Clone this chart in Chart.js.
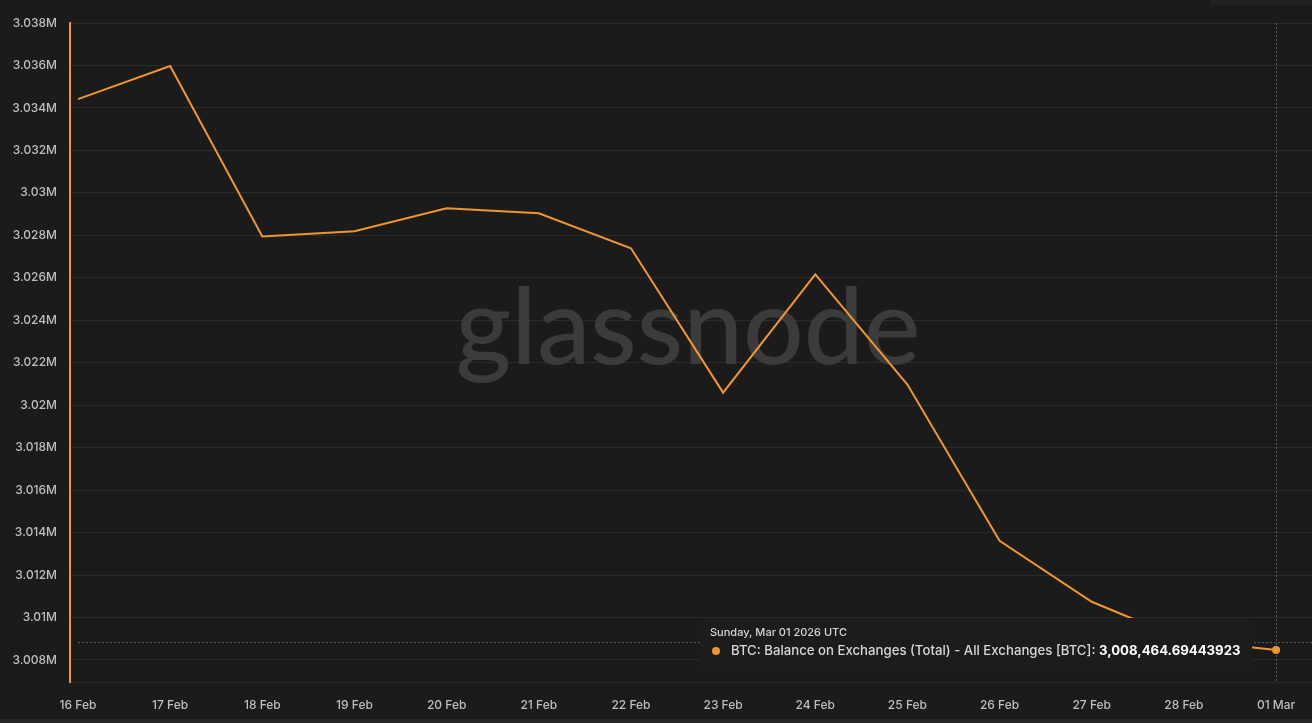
<!DOCTYPE html>
<html>
<head>
<meta charset="utf-8">
<script src="https://cdn.jsdelivr.net/npm/chart.js@4.4.1/dist/chart.umd.min.js"></script>
<style>
  html, body { margin: 0; padding: 0; background: #1b1b1b; }
  #wrap { width: 1312px; height: 723px; position: relative; }
</style>
</head>
<body>
<div id="wrap"><canvas id="c" width="1312" height="723"></canvas></div>
<script>
// ---- data ----
const dates = ['16 Feb','17 Feb','18 Feb','19 Feb','20 Feb','21 Feb','22 Feb','23 Feb','24 Feb','25 Feb','26 Feb','27 Feb','28 Feb','01 Mar'];
const balanceBTC = [3034415, 3035972, 3027950, 3028190, 3029270, 3029040, 3027390, 3020590, 3026160, 3020970, 3013610, 3010740, 3008940, 3008464.69443923];
const yTickValues = [3008000, 3010000, 3012000, 3014000, 3016000, 3018000, 3020000, 3022000, 3024000, 3026000, 3028000, 3030000, 3032000, 3034000, 3036000, 3038000];
const seriesName = 'BTC: Balance on Exchanges (Total) - All Exchanges [BTC]';
const tooltipTitle = 'Sunday, Mar 01 2026 UTC';
const watermark = 'glassnode';

const ORANGE = '#f0962e';
const BG = '#1b1b1b';
const GRID = '#2b2b2b';
const TEXT = '#bfbfbf';

function fmtM(v) {
  return (v / 1e6).toFixed(3).replace(/0+$/, '').replace(/\.$/, '') + 'M';
}
function fmtFull(v) {
  const parts = v.toFixed(8).split('.');
  return parts[0].replace(/\B(?=(\d{3})+(?!\d))/g, ',') + '.' + parts[1];
}

const points = balanceBTC.map((v, i) => ({ x: i, y: v }));
const lastIdx = points.length - 1;

const bgPlugin = {
  id: 'bg',
  beforeDraw(chart) {
    const { ctx, width, height } = chart;
    ctx.save();
    ctx.fillStyle = BG;
    ctx.fillRect(0, 0, width, height);
    ctx.fillStyle = '#262626';
    ctx.fillRect(0, height - 4, width, 4);
    ctx.fillStyle = '#222222';
    ctx.fillRect(1210, 0, width - 1210, 5);
    ctx.restore();
  },
  beforeDatasetsDraw(chart) {
    const { ctx } = chart;
    ctx.save();
    let size = 96;
    ctx.font = `500 ${size}px Lato, "Open Sans", sans-serif`;
    const w = ctx.measureText(watermark).width;
    size = size * 465 / w;
    ctx.font = `500 ${size}px Lato, "Open Sans", sans-serif`;
    ctx.fillStyle = '#3b3b3b';
    ctx.textAlign = 'center';
    ctx.textBaseline = 'alphabetic';
    ctx.fillText(watermark, 688, 364);
    ctx.restore();
  },
  afterDatasetsDraw(chart) {
    const { ctx, chartArea, scales } = chart;
    const px = scales.x.getPixelForValue(points[lastIdx].x);
    const py = scales.y.getPixelForValue(points[lastIdx].y);
    ctx.save();
    // crosshair
    ctx.strokeStyle = '#5a6068';
    ctx.lineWidth = 1;
    ctx.setLineDash([2, 2]);
    ctx.beginPath();
    ctx.moveTo(px + 0.5, chartArea.top);
    ctx.lineTo(px + 0.5, chartArea.bottom);
    ctx.moveTo(chartArea.left + 8, py - 7.5);
    ctx.lineTo(chartArea.right, py - 7.5);
    ctx.stroke();
    ctx.setLineDash([]);
    // tooltip box
    ctx.fillStyle = '#1c1c1c';
    ctx.fillRect(700, 618, 552, 50);
    ctx.textBaseline = 'middle';
    ctx.textAlign = 'left';
    ctx.font = '500 11px Inter, "Liberation Sans", sans-serif';
    ctx.fillStyle = '#d6d6d6';
    ctx.fillText(tooltipTitle, 710, 633);
    ctx.beginPath();
    ctx.arc(716, 651, 4, 0, Math.PI * 2);
    ctx.fillStyle = ORANGE;
    ctx.fill();
    ctx.font = '500 13.2px Inter, "Liberation Sans", sans-serif';
    ctx.fillStyle = '#d6d6d6';
    const lab = seriesName + ': ';
    ctx.fillText(lab, 731, 651);
    const lw = ctx.measureText(lab).width;
    ctx.font = '700 13.2px Inter, "Liberation Sans", sans-serif';
    ctx.fillStyle = '#ffffff';
    ctx.fillText(fmtFull(balanceBTC[lastIdx]), 731 + lw, 651);
    // point
    ctx.beginPath();
    ctx.arc(px, py, 4, 0, Math.PI * 2);
    ctx.fillStyle = ORANGE;
    ctx.fill();
    ctx.restore();
  }
};

new Chart(document.getElementById('c'), {
  type: 'line',
  data: {
    datasets: [{
      label: seriesName,
      data: points,
      borderColor: ORANGE,
      borderWidth: 2,
      pointRadius: 0,
      tension: 0,
      fill: false
    }]
  },
  options: {
    responsive: false,
    animation: false,
    events: [],
    layout: { padding: { top: 23, right: 0, left: 0, bottom: 0 } },
    plugins: { legend: { display: false }, tooltip: { enabled: false } },
    scales: {
      x: {
        type: 'linear',
        min: -0.0868,
        max: 13.39,
        afterBuildTicks(scale) { scale.ticks = dates.map((d, i) => ({ value: i })); },
        afterFit(scale) { scale.height = 41; },
        grid: { display: false, drawTicks: false },
        border: { display: true, color: GRID, width: 1 },
        ticks: {
          autoSkip: false,
          maxRotation: 0,
          padding: 16,
          color: TEXT,
          font: { family: 'Inter, "Liberation Sans", sans-serif', size: 12, weight: '500' },
          callback: (v) => dates[Math.round(v)]
        }
      },
      y: {
        type: 'linear',
        min: 3006962,
        max: 3038000,
        afterBuildTicks(scale) { scale.ticks = yTickValues.map(v => ({ value: v })); },
        afterFit(scale) { scale.width = 70; },
        grid: { color: GRID, lineWidth: 1, drawTicks: false },
        border: { display: true, color: ORANGE, width: 2 },
        ticks: {
          padding: 13,
          color: TEXT,
          font: { family: 'Inter, "Liberation Sans", sans-serif', size: 12, weight: '500' },
          callback: (v) => fmtM(v)
        }
      }
    }
  },
  plugins: [bgPlugin]
});
</script>
</body>
</html>
